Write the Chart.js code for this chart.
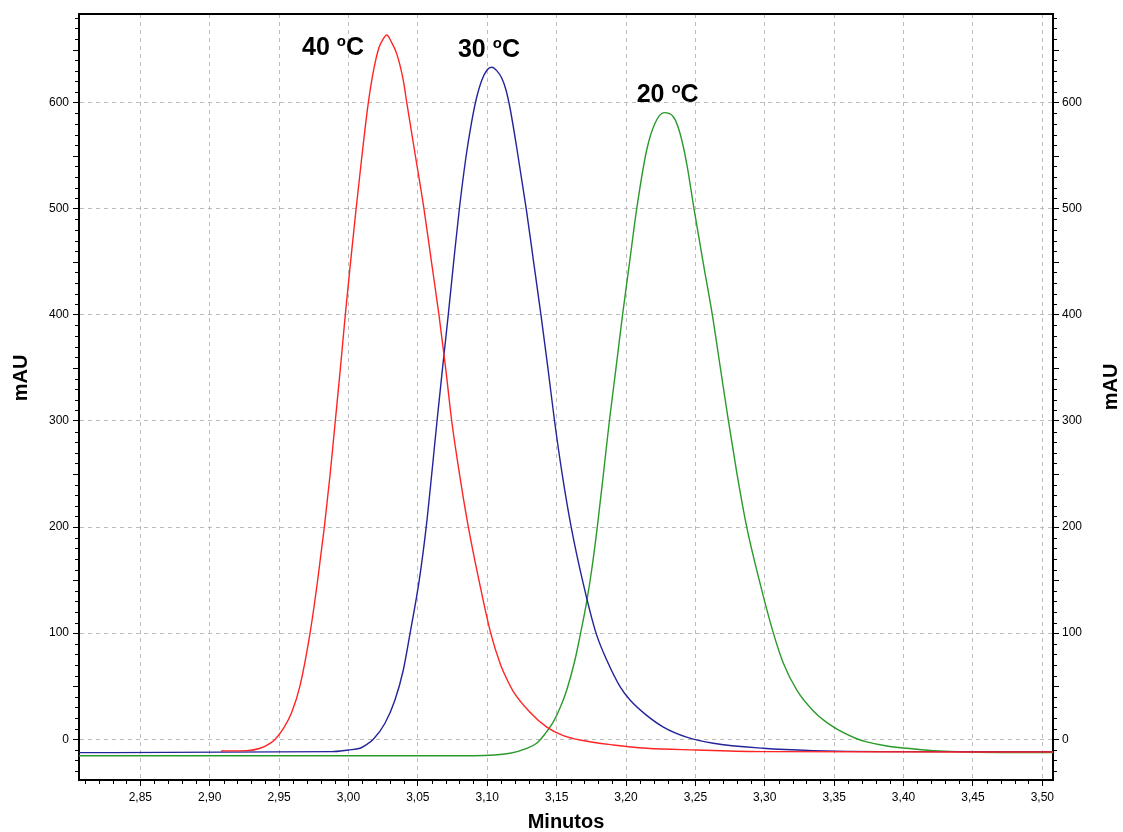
<!DOCTYPE html>
<html>
<head>
<meta charset="utf-8">
<script src="https://cdn.jsdelivr.net/npm/chart.js@4/dist/chart.umd.min.js"></script>
<style>
  html, body { margin: 0; padding: 0; background: #ffffff; }
  #wrap { width: 1123px; height: 832px; position: relative; }
</style>
</head>
<body>
<div id="wrap"><canvas id="chrom"></canvas></div>
<script>
// ── Cromatogramas a 40, 30 y 20 ºC (tiempo en minutos vs. mAU) ──

const xTicks = [2.85, 2.90, 2.95, 3.00, 3.05, 3.10, 3.15, 3.20, 3.25, 3.30, 3.35, 3.40, 3.45, 3.50];
const yTicks = [0, 100, 200, 300, 400, 500, 600];

const t40 = [2.9082, 2.9267, 2.9363, 2.9435, 2.9472, 2.9530, 2.9590, 2.9650, 2.9723, 2.9780, 2.9826, 2.9868,
             2.9905, 2.9942, 2.9977, 3.0015, 3.0055, 3.0097, 3.0143, 3.0180, 3.0220, 3.0250, 3.0276, 3.0310,
             3.0348, 3.0395, 3.0420, 3.0482, 3.0544, 3.0598, 3.0652, 3.0700, 3.0744, 3.0800, 3.0864, 3.0940,
             3.1025, 3.1092, 3.1140, 3.1188, 3.1308, 3.1429, 3.1548, 3.1668, 3.1908, 3.2149, 3.2510, 3.2989,
             3.5077];
const mau40 = [-11.0, -10.7, -8.5, -3.8, 0, 10, 25, 50, 100, 152, 200, 250,
               300, 350, 400, 450, 500, 550, 600, 630, 652, 660, 663.8, 657,
               646, 621, 600, 550, 500, 450, 400, 350, 300, 250, 200, 150,
               100, 71.6, 57, 45, 25.5, 11.5, 3.5, -0.7, -5.4, -8.5, -10.1, -11.7,
               -12.0];

const t30 = [2.8058, 2.9879, 2.9999, 3.0083, 3.0130, 3.0179, 3.0263, 3.0335, 3.0395, 3.0444, 3.0510, 3.0560,
             3.0600, 3.0638, 3.0678, 3.0719, 3.0758, 3.0799, 3.0848, 3.0885, 3.0920, 3.0960, 3.1000, 3.1032,
             3.1070, 3.1105, 3.1135, 3.1164, 3.1212, 3.1281, 3.1334, 3.1387, 3.1437, 3.1485, 3.1540, 3.1605,
             3.1686, 3.1784, 3.1861, 3.1957, 3.2029, 3.2149, 3.2269, 3.2437, 3.2629, 3.2989, 3.3350, 3.3830,
             3.5077];
const mau30 = [-12.6, -11.7, -10.1, -8.5, -5.0, 0, 15.1, 37.0, 65.3, 100, 150, 200,
               250, 300, 350, 400, 450, 500, 550, 580, 603, 621, 631, 633.4,
               630, 623, 612, 595, 558, 500, 450, 400, 350, 300, 250, 200,
               150, 100, 74.7, 49.6, 37, 22.5, 11.5, 2, -3.8, -8.5, -10.7, -11.7,
               -11.7];

const t20 = [2.8058, 3.0900, 3.1164, 3.1284, 3.1356, 3.1416, 3.1476, 3.1524, 3.1573, 3.1632, 3.1668, 3.1717,
             3.1753, 3.1793, 3.1837, 3.1880, 3.1928, 3.1975, 3.2026, 3.2077, 3.2149, 3.2209, 3.2274, 3.2341,
             3.2389, 3.2437, 3.2490, 3.2555, 3.2622, 3.2680, 3.2738, 3.2800, 3.2870, 3.2960, 3.3062, 3.3134,
             3.3230, 3.3350, 3.3494, 3.3662, 3.3734, 3.3879, 3.4023, 3.4214, 3.4455, 3.5077];
const mau20 = [-15.5, -15.5, -13.2, -8.5, -3.8, 5, 16.3, 29.5, 46.5, 74.7, 97, 130,
               160, 200, 250, 300, 350, 400, 450, 500, 555.4, 580.6, 590.6, 586.8,
               571.2, 542.9, 500, 450, 400, 350, 300, 250, 200, 150, 100, 71.6,
               46.5, 26.7, 11.6, 0.5, -2.5, -6.3, -8.5, -10.7, -12.0, -12.6];

// Etiquetas de cada pico (posición del texto en unidades de los ejes)
const peakNames = ['40 ºC', '30 ºC', '20 ºC'];
const peakNameX = [2.9665, 3.0789, 3.2077];
const peakNameY = [645, 643, 601];

const X_MIN = 2.8058, X_MAX = 3.5077;
const Y_MIN = -38.4,  Y_MAX = 683.6;

const toPoints = (xs, ys) => xs.map((x, i) => ({ x, y: ys[i] }));
const fmtComma = v => v.toFixed(2).replace('.', ',');
const FONT = "'Liberation Sans', Arial, sans-serif";

// Marcas menores, marco superior, títulos de ejes y rótulos de picos
const chromDecor = {
    id: 'chromDecor',
    afterDraw(chart) {
        const { ctx, chartArea: a } = chart;
        const x = chart.scales.x, y = chart.scales.y;
        ctx.save();

        ctx.strokeStyle = '#000000';
        ctx.lineWidth = 2;
        ctx.beginPath();
        ctx.moveTo(a.left - 1, a.top);
        ctx.lineTo(a.right + 1, a.top);
        ctx.stroke();

        ctx.lineWidth = 1;
        ctx.beginPath();
        for (let v = -30; v <= 680; v += 10) {
            if (v % 100 === 0) continue;
            const py = Math.round(y.getPixelForValue(v)) + 0.5;
            const len = v % 50 === 0 ? 6 : 4;
            ctx.moveTo(a.left - len, py); ctx.lineTo(a.left, py);
            ctx.moveTo(a.right, py);      ctx.lineTo(a.right + len, py);
        }
        for (let k = 281; k <= 350; k++) {
            if (k % 5 === 0) continue;
            const px = Math.round(x.getPixelForValue(k / 100)) + 0.5;
            ctx.moveTo(px, a.bottom); ctx.lineTo(px, a.bottom + 4);
        }
        ctx.stroke();

        ctx.fillStyle = '#000000';
        ctx.font = `bold 20px ${FONT}`;
        ctx.textAlign = 'center';
        ctx.textBaseline = 'middle';
        ctx.fillText('Minutos', (a.left + a.right) / 2, 822);
        [[21, 378], [1111, 387]].forEach(([cx, cy]) => {
            ctx.save();
            ctx.translate(cx, cy);
            ctx.rotate(-Math.PI / 2);
            ctx.fillText('mAU', 0, 0);
            ctx.restore();
        });

        // "40 ºC": la o volada se dibuja más pequeña y elevada
        ctx.textAlign = 'left';
        ctx.textBaseline = 'alphabetic';
        peakNames.forEach((name, i) => {
            const [pre, post] = name.split('º');
            let px = x.getPixelForValue(peakNameX[i]);
            const py = y.getPixelForValue(peakNameY[i]);
            ctx.font = `bold 25px ${FONT}`;
            ctx.fillText(pre, px, py);
            px += ctx.measureText(pre).width;
            ctx.font = `bold 15px ${FONT}`;
            ctx.fillText('o', px, py - 9);
            px += ctx.measureText('o').width;
            ctx.font = `bold 25px ${FONT}`;
            ctx.fillText(post, px, py);
        });

        ctx.restore();
    }
};

const sharedY = {
    type: 'linear',
    min: Y_MIN,
    max: Y_MAX,
    afterBuildTicks: s => { s.ticks = yTicks.map(v => ({ value: v })); },
    ticks: { color: '#000000', font: { family: FONT, size: 12 } },
    border: { display: true, color: '#000000', width: 2, dash: [4, 4] },
    grid: { color: '#bdbdbd', lineWidth: 1, tickLength: 6, tickColor: '#000000' }
};

new Chart(document.getElementById('chrom').getContext('2d'), {
    type: 'line',
    plugins: [chromDecor],
    data: {
        datasets: [
            { label: '40 ºC', data: toPoints(t40, mau40), borderColor: '#ff2424' },
            { label: '30 ºC', data: toPoints(t30, mau30), borderColor: '#23239a' },
            { label: '20 ºC', data: toPoints(t20, mau20), borderColor: '#2a9a2a' }
        ]
    },
    options: {
        responsive: true,
        maintainAspectRatio: false,
        animation: false,
        layout: { padding: { top: 14, left: 0, right: 0, bottom: 0 } },
        elements: {
            point: { radius: 0 },
            line: { borderWidth: 1.4, cubicInterpolationMode: 'monotone', fill: false }
        },
        plugins: { legend: { display: false }, tooltip: { enabled: false } },
        scales: {
            x: {
                type: 'linear',
                min: X_MIN,
                max: X_MAX,
                afterBuildTicks: s => { s.ticks = xTicks.map(v => ({ value: v })); },
                afterFit: s => { s.height = 52; },
                ticks: { color: '#000000', padding: 4, maxRotation: 0, font: { family: FONT, size: 12 }, callback: v => fmtComma(v) },
                border: { display: true, color: '#000000', width: 2, dash: [4, 4] },
                grid: { color: '#bdbdbd', lineWidth: 1, tickLength: 6, tickColor: '#000000' }
            },
            y: {
                ...sharedY,
                position: 'left',
                afterFit: s => { s.width = 79; },
                ticks: { ...sharedY.ticks, padding: 4 }
            },
            y2: {
                ...sharedY,
                position: 'right',
                afterFit: s => { s.width = 70; },
                ticks: { ...sharedY.ticks, padding: 3 },
                grid: { ...sharedY.grid, drawOnChartArea: false }
            }
        }
    }
});
</script>
</body>
</html>
